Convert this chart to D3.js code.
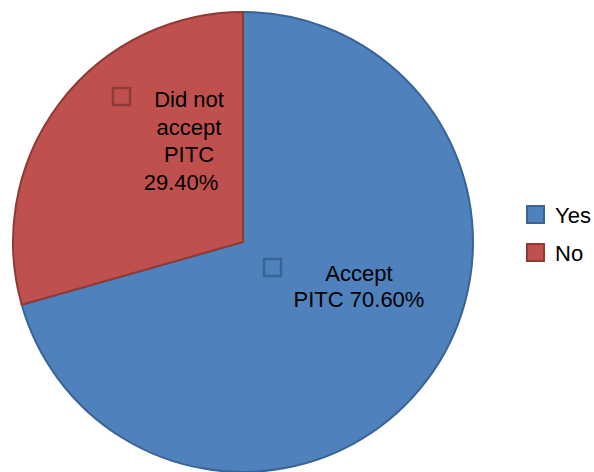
<html>
<head>
<meta charset="utf-8">
<script src="https://d3js.org/d3.v7.min.js"></script>
<style>
  body { margin: 0; background: #fff; }
  text { font-family: "Liberation Sans", Arial, sans-serif; font-size: 22px; fill: #000; }
</style>
</head>
<body>
<svg id="chart"></svg>
<script>
// data
const categories = ["Yes", "No"];
const values = [70.6, 29.4];
const labelLines = [["Accept", "PITC 70.60%"], ["Did not", "accept", "PITC", "29.40%"]];
const fills = ["#4F81BD", "#C0504D"];
const strokes = ["#3A6495", "#8E3B38"];

const width = 594, height = 472;
const cx = 243, cy = 242, radius = 230;

let svg = d3.select("svg#chart")
            .attr("width", width)
            .attr("height", height);

let pieArea = svg.append('g')
                 .attr('transform', `translate(${cx}, ${cy})`);

const pie = d3.pie().sort(null).value(d => d);
const arc = d3.arc().innerRadius(0).outerRadius(radius);
const arcs = pie(values);

pieArea.selectAll('path.slice')
       .data(arcs)
       .enter()
       .append('path')
       .attr('class', 'slice')
       .attr('d', arc)
       .attr('fill', (d, i) => fills[i])
       .attr('stroke', (d, i) => strokes[i])
       .attr('stroke-width', 2);

// data labels, placed relative to the pie centre
const labelPos = [
    {x: 116, y: 39, lh: 26, bx: 20, by: 16, shift: [0, 0]},                  // Yes
    {x: -54, y: -135, lh: 27.7, bx: -131, by: -155, shift: [0, 0, 0, -8]}   // No
];
arcs.forEach((d, i) => {
    const p = labelPos[i];
    let t = pieArea.append('text')
                   .attr('text-anchor', 'middle');
    labelLines[i].forEach((ln, j) => {
        t.append('tspan')
         .attr('x', p.x + p.shift[j])
         .attr('y', p.y + j * p.lh)
         .text(ln);
    });
    // small key box
    pieArea.append('rect')
           .attr('x', p.bx + 1)
           .attr('y', p.by + 1)
           .attr('width', 17)
           .attr('height', 17)
           .attr('fill', 'none')
           .attr('stroke', strokes[i])
           .attr('stroke-width', 2.5);
});

// legend
let legend = svg.append('g')
                .attr('transform', 'translate(526, 205)');
categories.forEach((c, i) => {
    legend.append('rect')
          .attr('x', 1)
          .attr('y', i * 38 + 1)
          .attr('width', 17)
          .attr('height', 17)
          .attr('fill', fills[i])
          .attr('stroke', strokes[i])
          .attr('stroke-width', 2);
    legend.append('text')
          .attr('x', 29)
          .attr('y', i * 38 + 18)
          .text(c);
});
</script>
</body>
</html>
